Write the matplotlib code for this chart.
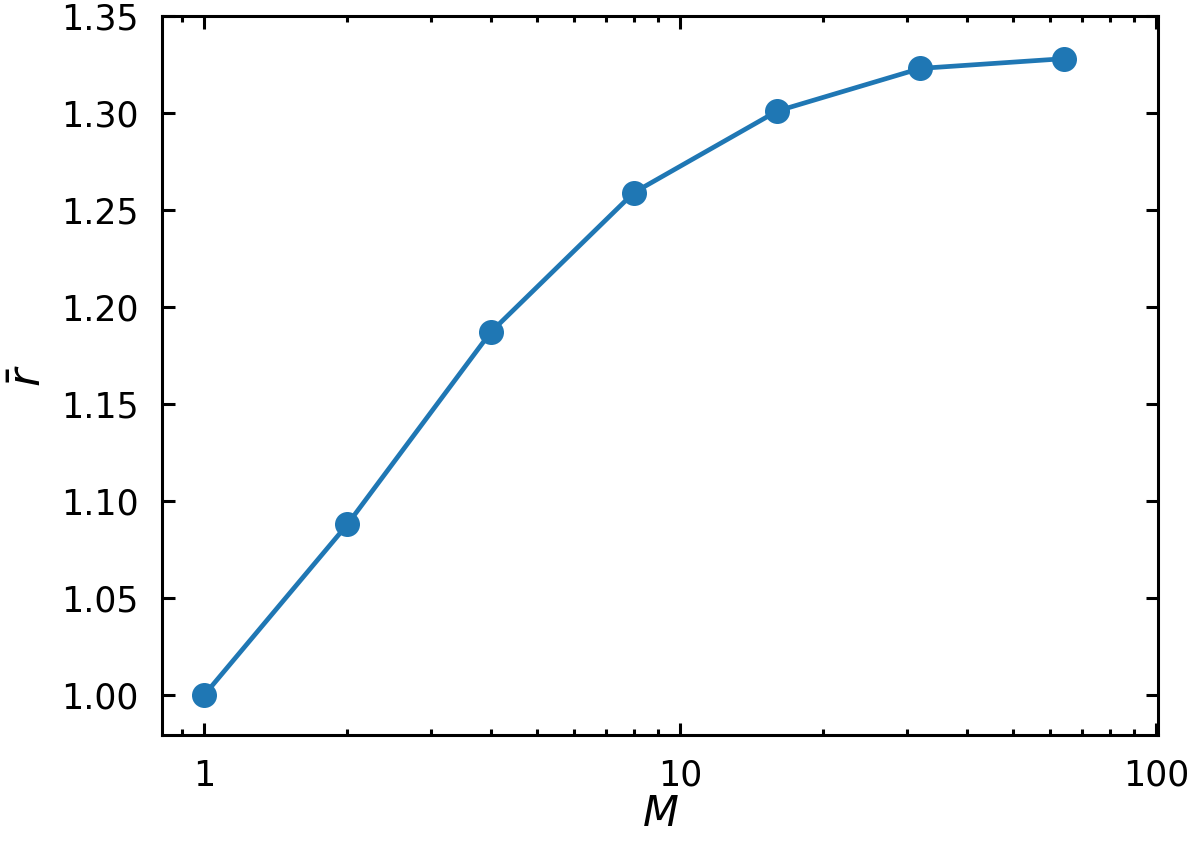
import matplotlib
matplotlib.use("Agg")
import matplotlib.pyplot as plt
from matplotlib.ticker import ScalarFormatter

# M values and mean ratio
m_values = [1, 2, 4, 8, 16, 32, 64]
r_bar = [1.000, 1.088, 1.187, 1.259, 1.301, 1.323, 1.328]
y_ticks = [1.00, 1.05, 1.10, 1.15, 1.20, 1.25, 1.30, 1.35]

plt.rcParams["font.family"] = "DejaVu Sans"
plt.rcParams["font.size"] = 12.5

fig, ax = plt.subplots(figsize=(6, 4.21), dpi=200)
ax.plot(m_values, r_bar, marker="o", color="#1f77b4", lw=1.7, ms=8)

ax.set_xscale("log")
ax.set_xlim(0.816, 101)
ax.set_ylim(0.9795, 1.35)
ax.set_yticks(y_ticks)
ax.xaxis.set_major_formatter(ScalarFormatter())

ax.tick_params(which="both", direction="in", top=True, right=True, width=1.1)
ax.tick_params(which="major", length=4.5, pad=8.5)
ax.tick_params(which="minor", length=2.3)
for s in ax.spines.values():
    s.set_linewidth(1.1)

ax.set_xlabel("$M$", fontsize=15, labelpad=0)
ax.set_ylabel(r"$\bar{r}$", fontsize=16, labelpad=4)

fig.subplots_adjust(left=0.135, right=0.965, top=0.981, bottom=0.127)
plt.savefig("out.png", dpi=200)
